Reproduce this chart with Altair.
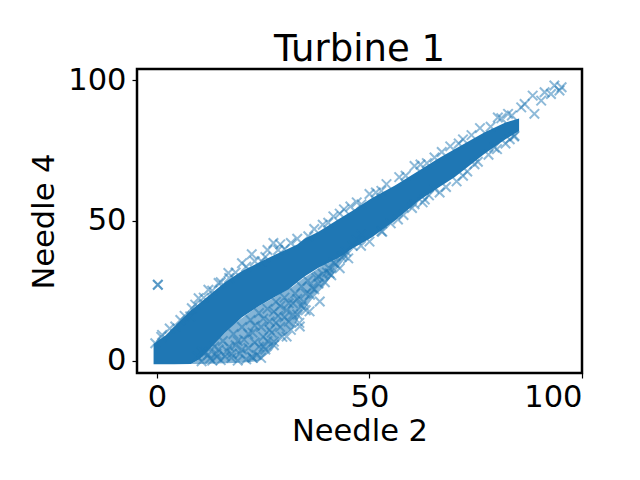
import altair as alt
import pandas as pd

band_x = [-0.8, 2, 4, 8, 10, 12, 16, 20, 24, 28, 31, 33, 34.7, 38, 42.7,
          46, 50.5, 56, 61.5, 66, 70, 77, 82, 85.2]
band_lo = [-1.3, -1.3, -1.3, -1.2, 0.5, 3.5, 10, 15.5, 19.5, 23, 25.5, 28, 30,
           33.2, 36.6, 40, 44, 50, 57, 61.5, 65.5, 73.8, 79, 82]
band_hi = [6, 9, 12, 18, 20.5, 23, 28, 32, 35, 38, 40, 41.5, 43.5, 46, 50.5,
           53.5, 58, 62.5, 67.7, 72, 75.5, 81.4, 85, 86.4]

# half-dense lower branch under the core
branch_x = [8, 10, 14, 18, 22, 24, 27, 29, 32, 34, 36.5, 39, 42, 44, 46.5]
branch_lo = [-1.2, -1.2, -1, -0.8, -0.5, 0, 3.5, 8, 11.5, 17, 22, 26, 32, 36, 40.5]
branch_hi = [-1.2, 0.5, 7, 13, 17.5, 19.5, 22, 24, 26.5, 29, 31.5, 34, 36, 37.8, 40.5]

# scattered readings around the core
pt_x = [
    # lower branch
    9.5, 10.5, 11.5, 12.5, 13.5, 14, 15, 15.5, 16.5, 17.5, 18, 18.5, 19.5, 20,
    20.5, 21, 21.5, 22, 22.5, 23, 23.5, 24, 24.5, 25, 25.5, 26, 26.5, 27, 27.5,
    28, 28.5, 29, 29.5, 30, 30.5, 31, 31.5, 32, 32.5, 33, 33.5, 34, 34.5, 35,
    35.5, 36, 37, 37.5, 38, 39, 39.5, 40.5, 41, 42, 43, 43.5, 44.5, 45, 46, 47,
    48, 10.6, 14.1, 17.6, 22.3, 25.1, 27.5, 30.5, 33.6, 35.9, 38.3, 40.6,
    12, 13, 14.5, 16, 17, 19, 20, 21.5, 22.5, 23, 24, 25, 26, 26.5, 27.5, 28,
    29, 30, 31, 32, 33, 34, 35, 36.5, 38, 40, 41.5, 44, 19, 24.5,
    # upper fringe, lower-left
    -0.4, 1.2, 4.3, 7.8, 8.2, 9.8, 12.1, 14.5, 16.8, 20.0, 22.3, 24.6, 27.4,
    30.0, 35.6, 0.2, 0.2,
    1, 3, 5.5, 6.5, 9, 11, 13, 15, 17, 18.5, 21, 23, 25.5, 26, 28.5, 29,
    31.5, 33, 37, 39, 41.5, 43, 45.5,
    # fringe along the upper band
    40.3, 44, 47, 48.1, 52.8, 57, 60.6, 62, 65.3, 67, 72, 76, 81,
    50, 51.5, 54, 58.5, 63.5, 69, 71, 74, 78.5, 83.5,
    52.8, 55, 56.7, 60.6, 63, 65.3, 68, 73, 74.7, 78, 79.4, 83, 84.1,
    48, 50, 53, 58, 60, 62.5, 64, 66.5, 70.5, 72, 75.5, 80, 82, 84,
    # tail beyond the core
    80.2, 82.6, 85.7, 86.5, 88.4, 88.8, 90.4, 91.2, 92.7, 93.5, 94.7, 95.2,
]
pt_y = [
    1.5, -0.2, 3, 0.8, 5, 2.5, 0.2, 7, 3.5, 1, 9.5, 5.5, 2.5, 12,
    7.5, 0.5, 4.5, 14.5, 10, 6.5, 2, 17, 12, 8.5, 4, 18.5, 14, 10, 5.5,
    21, 16, 12, 8.5, 22.5, 18, 14, 11, 20.5, 24, 16.5, 13.5, 26.5, 21, 18,
    28.5, 23.5, 25.5, 29.5, 27.5, 31, 28, 33, 30.5, 34.5, 33, 37, 39, 36.5, 41, 43,
    45, 3.2, 1.4, 2.5, 1.4, 5.0, 6.8, 8.6, 12.2, 17.6, 21.1, 31.2,
    2, 0, 4, 1.5, 5, 7, 4, 9.5, 1, 12.5, 5, 15, 7, 11, 17.5, 13.5,
    19.5, 15.5, 20.5, 16.5, 22, 19.5, 24, 26, 30, 31.5, 35, 37.5, 0, 1,
    6.2, 9.2, 12.2, 15.8, 18.7, 22.3, 25.3, 27.7, 31.3, 34.8, 38.0, 35.5, 42.0,
    39.8, 44.4, 27.1, 27.1,
    8.5, 11.5, 14.5, 16, 20, 22.5, 25, 28, 29.5, 31.5, 33.5, 35.5, 37, 39.5, 39.5, 41.5,
    42, 43.5, 47, 48.5, 51.5, 52.5, 55,
    49.2, 54, 56.5, 55.8, 60.6, 65.5, 69.5, 70, 72.5, 74.5, 79, 83, 86.5,
    59.5, 60, 63, 66, 70.5, 76.5, 77.5, 80.5, 83.5, 87.5,
    46.2, 49, 50.4, 55.8, 57.5, 61.3, 62, 67.5, 70.1, 73.5, 76.1, 79, 80.3,
    41, 42.5, 46, 52, 54.5, 56.5, 59, 60, 64, 66, 71, 75.5, 77.5, 80,
    86.8, 88.1, 90.4, 91.6, 94.6, 88.1, 92.8, 95.8, 95.2, 98.2, 96.4, 97.6,
]

BLUE = "#1f77b4"
FONT = "DejaVu Sans"
X_SHAPE = "M-1,-1L1,1M-1,1L1,-1"

band = pd.DataFrame({"x": band_x, "lo": band_lo, "hi": band_hi})
branch = pd.DataFrame({"x": branch_x, "lo": branch_lo, "hi": branch_hi})
pts = pd.DataFrame({"x": pt_x, "y": pt_y})

x_scale = alt.Scale(domain=[-4.7, 100], nice=False, zero=False)
y_scale = alt.Scale(domain=[-4.4, 104.1], nice=False, zero=False)

x_axis = alt.Axis(values=[0, 50, 100], title="Needle 2", grid=False, domain=False,
                  tickSize=5, tickWidth=1.2, tickColor="black", labelPadding=4,
                  titlePadding=4)
y_axis = alt.Axis(values=[0, 50, 100], title="Needle 4", grid=False, domain=False,
                  tickSize=5, tickWidth=1.2, tickColor="black", labelPadding=6,
                  titlePadding=8)

core = alt.Chart(band).mark_area(color=BLUE, opacity=1).encode(
    x=alt.X("x:Q", scale=x_scale, axis=x_axis),
    y=alt.Y("lo:Q", scale=y_scale, axis=y_axis),
    y2="hi:Q",
)

lower = alt.Chart(branch).mark_area(color=BLUE, opacity=0.55).encode(
    x=alt.X("x:Q", scale=x_scale),
    y=alt.Y("lo:Q", scale=y_scale),
    y2="hi:Q",
)

marks = alt.Chart(pts).mark_point(
    shape=X_SHAPE, filled=False, size=90, strokeWidth=2, color=BLUE, opacity=0.5
).encode(
    x=alt.X("x:Q", scale=x_scale),
    y=alt.Y("y:Q", scale=y_scale),
)

chart = (
    alt.layer(lower, core, marks)
    .properties(
        width=445,
        height=304,
        title=alt.TitleParams("Turbine 1", fontSize=37, font=FONT, fontWeight="normal",
                              baseline="alphabetic", offset=7, dy=40, color="black"),
        autosize=alt.AutoSizeParams(type="none"),
        padding={"left": 129, "top": 61, "right": 40, "bottom": 90},
    )
    .configure_view(stroke="black", strokeWidth=2.5)
    .configure_axis(labelFont=FONT, titleFont=FONT, labelFontSize=30.5,
                    titleFontSize=30.5, titleFontWeight="normal",
                    labelColor="black", titleColor="black")
)

chart.save("out.html", embed_options={"renderer": "svg", "actions": False})
